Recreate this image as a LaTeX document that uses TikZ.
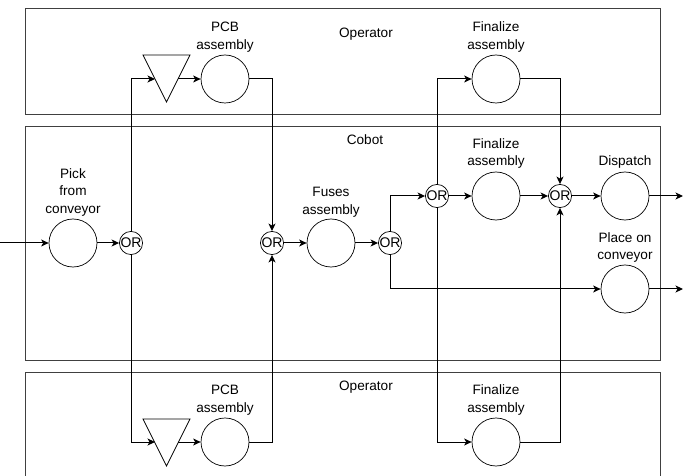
\documentclass[tikz,border=0pt]{standalone}
\usepackage{fontspec}
\setmainfont{Liberation Sans}
\usetikzlibrary{arrows.meta}
\begin{document}
\begin{tikzpicture}[x=1pt,y=-1pt,
  lane/.style={draw=black!75, line width=0.8pt},
  act/.style={draw, circle, minimum size=48pt, inner sep=0pt, line width=0.7pt},
  orn/.style={draw, circle, minimum size=23pt, inner sep=0pt, line width=0.7pt, font=\fontsize{14}{14}\selectfont},
  lbl/.style={align=center, inner sep=0pt, font=\fontsize{13.6}{17.5}\selectfont},
  tri/.style={draw, line width=0.7pt, line join=miter},
  flow/.style={draw, line width=1pt, -{Stealth[length=7.5pt,width=7pt,inset=2pt]}},
]
\useasboundingbox (0,0) rectangle (689,476);
% lanes
\draw[lane] (25,8) rectangle (660,114);
\draw[lane] (25,126) rectangle (660,360);
\draw[lane] (25,372) rectangle (660,495);
\node[lbl] (lop1) at (366,34) {Operator};
\node[lbl] (lcob) at (365,140) {Cobot};
\node[lbl] (lop2) at (366,387) {Operator};
% activities
\node[act] (pick) at (73,243) {};
\node[orn] (or1) at (131,243) {OR};
\node[orn] (or2) at (272,243) {OR};
\node[act] (fuses) at (331,243) {};
\node[orn] (or3) at (390,243) {OR};
\node[orn] (or4) at (437,196) {OR};
\node[act] (finc) at (496,196) {};
\node[orn] (or5) at (560,196) {OR};
\node[act] (disp) at (625,196) {};
\node[act] (place) at (625,289) {};
\node[act] (pcbt) at (225,79) {};
\node[act] (fint) at (496,79) {};
\node[act] (pcbb) at (225,442) {};
\node[act] (finb) at (496,442) {};
% triangles
\draw[tri] (143,55) -- (190,55) -- (166.5,102) -- cycle;
\coordinate (t1in) at (155,79);
\coordinate (t1out) at (178,79);
\draw[tri] (143,419) -- (190,419) -- (166.5,466) -- cycle;
\coordinate (t2in) at (155,442);
\coordinate (t2out) at (178,442);
% labels
\node[lbl] (lpick) at (73,192) {Pick\\from\\conveyor};
\node[lbl] (lpcbt) at (225,37) {PCB\\assembly};
\node[lbl] (lfint) at (496,37) {Finalize\\assembly};
\node[lbl] (lfuses) at (331,202) {Fuses\\assembly};
\node[lbl] (lfinc) at (496,153.5) {Finalize\\assembly};
\node[lbl] (ldisp) at (625,162) {Dispatch};
\node[lbl] (lplace) at (625,247.5) {Place on\\conveyor};
\node[lbl] (lpcbb) at (225,400) {PCB\\assembly};
\node[lbl] (lfinb) at (496,400) {Finalize\\assembly};
% free ends
\coordinate (in0) at (0,243);
\coordinate (out1) at (683,196);
\coordinate (out2) at (683,289);
% flows
\draw[flow] (in0) -- (pick);
\draw[flow] (pick) -- (or1);
\draw[flow] (or1.north) |- (t1in);
\draw[flow] (t1out) -- (pcbt);
\draw[flow] (pcbt.east) -| (or2.north);
\draw[flow] (or1.south) |- (t2in);
\draw[flow] (t2out) -- (pcbb);
\draw[flow] (pcbb.east) -| (or2.south);
\draw[flow] (or2) -- (fuses);
\draw[flow] (fuses) -- (or3);
\draw[flow] (or3.north) |- (or4.west);
\draw[flow] (or3.south) |- (place.west);
\draw[flow] (or4) -- (finc);
\draw[flow] (or4.north) |- (fint.west);
\draw[flow] (or4.south) |- (finb.west);
\draw[flow] (finc) -- (or5);
\draw[flow] (fint.east) -| (or5.north);
\draw[flow] (finb.east) -| (or5.south);
\draw[flow] (or5) -- (disp);
\draw[flow] (disp) -- (out1);
\draw[flow] (place) -- (out2);
\end{tikzpicture}
\end{document}
